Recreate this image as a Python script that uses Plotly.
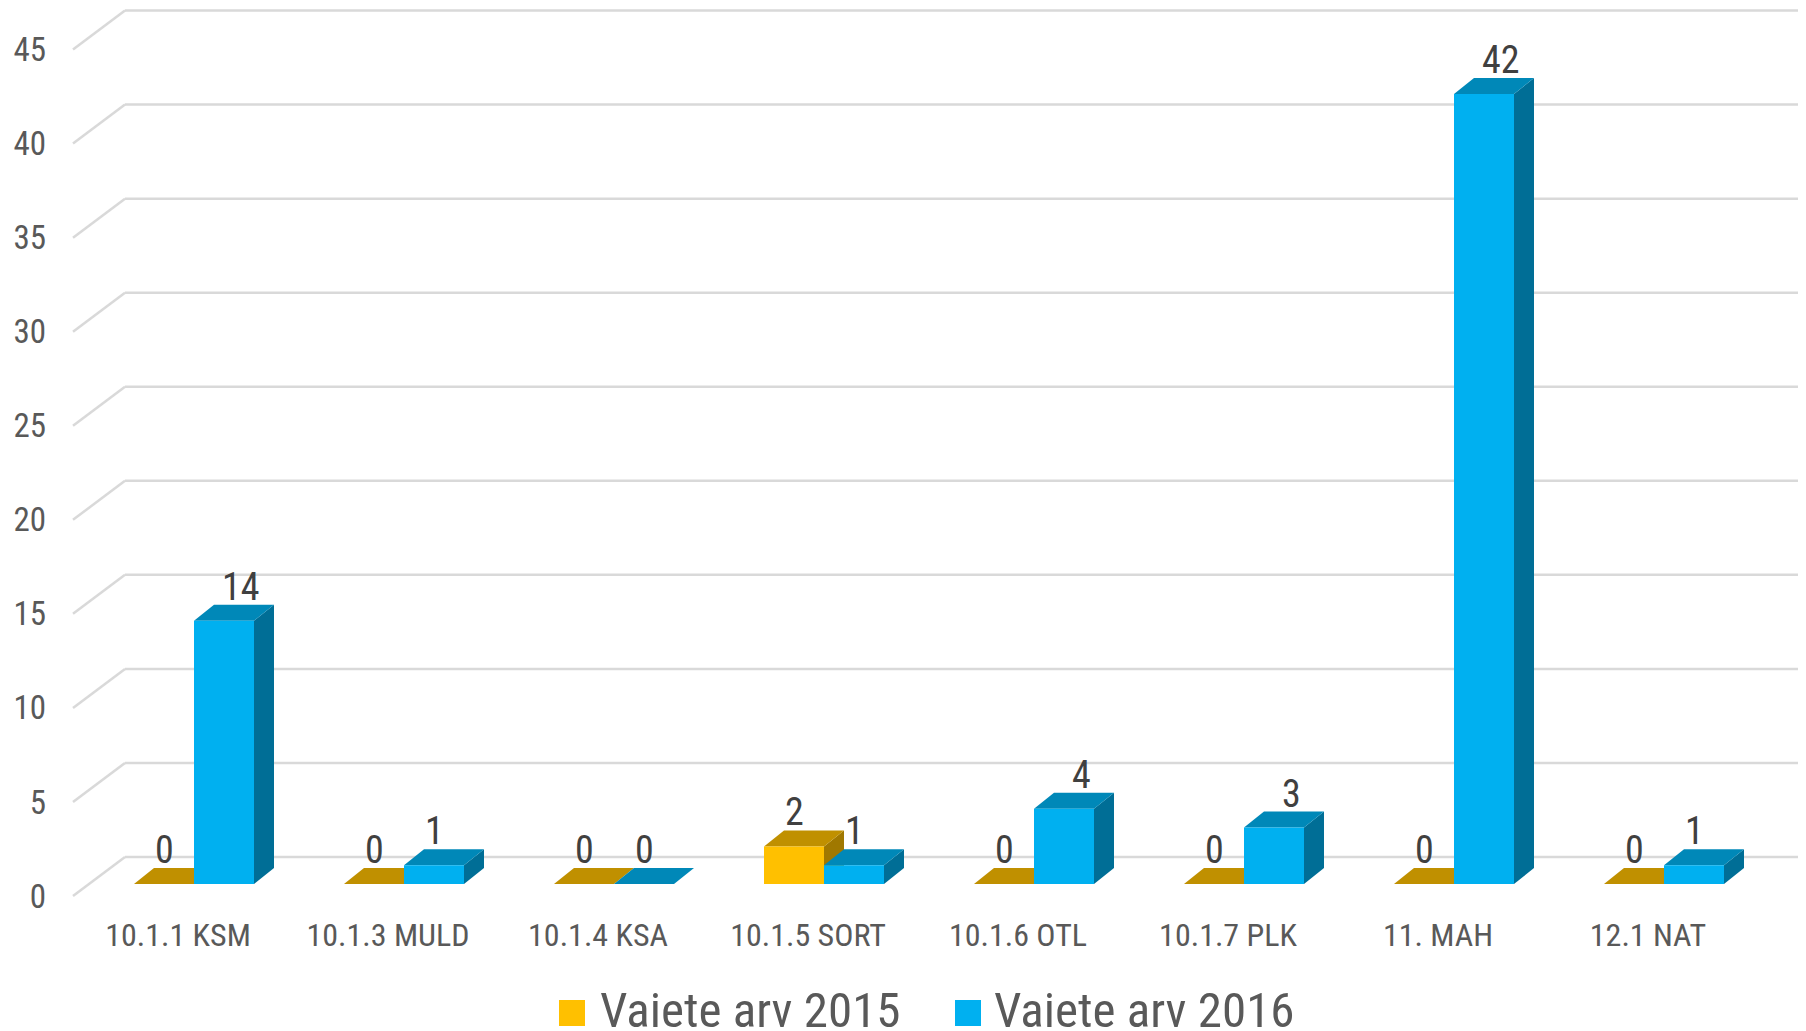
import plotly.graph_objects as go

# ---------------- data ----------------
categories = ["10.1.1 KSM", "10.1.3 MULD", "10.1.4 KSA", "10.1.5 SORT",
              "10.1.6 OTL", "10.1.7 PLK", "11. MAH", "12.1 NAT"]
values_2015 = [0, 0, 0, 2, 0, 0, 0, 0]
values_2016 = [14, 1, 0, 1, 4, 3, 42, 1]
series_names = ["Vaiete arv 2015", "Vaiete arv 2016"]
y_ticks = [0, 5, 10, 15, 20, 25, 30, 35, 40, 45]

# ---------------- style / geometry (window pixels) ----------------
PAGE_M = 8                      # default body margin of the html page
WIN_W, WIN_H = 1806, 1031
W, H = WIN_W - PAGE_M, WIN_H - PAGE_M


def wx(p):                      # window px -> figure px
    return p - PAGE_M


ML = wx(47)
PLOT_BOTTOM = wx(911)
MB = H - PLOT_BOTTOM
PX_PER_CAT = 210.0
PX_PER_UNIT = 18.81
X0_PX = wx(194)      # front-face centre of first group
Y0_PX = wx(884)      # front-face baseline
BAR_W = 60 / PX_PER_CAT
DX = 20 / PX_PER_CAT
DY = 16 / PX_PER_UNIT
BACK_X = (wx(125) - X0_PX) / PX_PER_CAT
FRONT_X = (wx(73) - X0_PX) / PX_PER_CAT
BACK_DY = 27 / PX_PER_UNIT
FRONT_DY = -12 / PX_PER_UNIT
LABEL_SHIFT_X = 16 / PX_PER_CAT

FONT = "Roboto Condensed, Roboto, sans-serif"
GRID = "#D9D9D9"
AXIS_TXT = "#595959"
LABEL_TXT = "#404040"

colors = [
    dict(front="#FFC000", top="#C09000", side="#A07800"),
    dict(front="#00B0F0", top="#0088B8", side="#006E96"),
]
offsets = [-BAR_W, 0.0]
series_values = [values_2015, values_2016]

x_range = [(ML - X0_PX) / PX_PER_CAT, (W - X0_PX) / PX_PER_CAT]
y_range = [(Y0_PX - PLOT_BOTTOM) / PX_PER_UNIT, Y0_PX / PX_PER_UNIT]
x2_range = [x_range[0] + LABEL_SHIFT_X, x_range[1] + LABEL_SHIFT_X]
y2_range = [y_range[0] - FRONT_DY, y_range[1] - FRONT_DY]

idx = list(range(len(categories)))

fig = go.Figure()

# front faces of the bars
for k in range(2):
    fig.add_trace(go.Bar(
        x=idx, y=series_values[k], name=series_names[k],
        offset=offsets[k], width=BAR_W,
        marker=dict(color=colors[k]["front"], line=dict(width=0)),
        showlegend=False, hoverinfo="skip",
    ))

# helper trace so that the label axes exist
fig.add_trace(go.Scatter(x=[0], y=[0], xaxis="x2", yaxis="y2", mode="markers",
                         marker=dict(opacity=0), showlegend=False, hoverinfo="skip"))

shapes = []
# gridlines: back wall + slanted side-wall stub
for t in y_ticks:
    shapes.append(dict(type="line", xref="x", yref="y", layer="below",
                       x0=BACK_X, y0=t + BACK_DY, x1=x_range[1], y1=t + BACK_DY,
                       line=dict(color=GRID, width=2.5)))
    shapes.append(dict(type="line", xref="x", yref="y", layer="below",
                       x0=FRONT_X, y0=t + FRONT_DY, x1=BACK_X, y1=t + BACK_DY,
                       line=dict(color=GRID, width=2.5)))

# 3-D top and side faces
for k in range(2):
    for i, v in zip(idx, series_values[k]):
        xl = i + offsets[k]
        xr = xl + BAR_W
        shapes.append(dict(type="path", xref="x", yref="y", layer="below",
                           path=f"M{xr},0 L{xr},{v} L{xr+DX},{v+DY} L{xr+DX},{DY} Z",
                           fillcolor=colors[k]["side"], line=dict(width=0)))
        shapes.append(dict(type="path", xref="x", yref="y", layer="below",
                           path=f"M{xl},{v} L{xr},{v} L{xr+DX},{v+DY} L{xl+DX},{v+DY} Z",
                           fillcolor=colors[k]["top"], line=dict(width=0)))

annotations = []
# data labels
for k in range(2):
    for i, v in zip(idx, series_values[k]):
        xl = i + offsets[k]
        shift = (7 if v >= 3 else -10) / PX_PER_CAT
        annotations.append(dict(x=xl + BAR_W / 2 + DX / 2 + shift, y=v + DY,
                                xref="x", yref="y", text=str(v), showarrow=False,
                                yanchor="bottom", yshift=-6,
                                font=dict(family=FONT, size=38, color=LABEL_TXT)))


# manual legend
def px_x(p):
    return (wx(p) - ML) / (W - ML)


def px_y(p):
    return (PLOT_BOTTOM - wx(p)) / PLOT_BOTTOM


legend_px = [(559, 598), (955, 992)]
for k in range(2):
    mx, tx = legend_px[k]
    shapes.append(dict(type="rect", xref="paper", yref="paper",
                       x0=px_x(mx), x1=px_x(mx + 26), y0=px_y(1026), y1=px_y(1000),
                       fillcolor=colors[k]["front"], line=dict(width=0)))
    annotations.append(dict(x=px_x(tx), y=px_y(1011), xref="paper", yref="paper",
                            text=series_names[k], showarrow=False,
                            xanchor="left", yanchor="middle",
                            font=dict(family=FONT, size=49, color=AXIS_TXT)))

fig.update_layout(
    width=W, height=H,
    margin=dict(l=ML, r=0, t=0, b=MB),
    paper_bgcolor="white", plot_bgcolor="white",
    barmode="overlay",
    showlegend=False,
    shapes=shapes,
    annotations=annotations,
    xaxis=dict(range=x_range, visible=False, fixedrange=True),
    yaxis=dict(range=y_range, visible=False, fixedrange=True),
    xaxis2=dict(range=x2_range, overlaying="x", side="bottom", anchor="y2",
                tickmode="array", tickvals=idx, ticktext=categories,
                showgrid=False, zeroline=False, showline=False, ticks="",
                tickfont=dict(family=FONT, size=32, color=AXIS_TXT),
                ticklabelstandoff=2),
    yaxis2=dict(range=y2_range, overlaying="y", side="left", anchor="x2",
                tickmode="array", tickvals=y_ticks,
                showgrid=False, zeroline=False, showline=False, ticks="",
                tickfont=dict(family=FONT, size=33, color=AXIS_TXT)),
)

fig.write_html("out.html")
